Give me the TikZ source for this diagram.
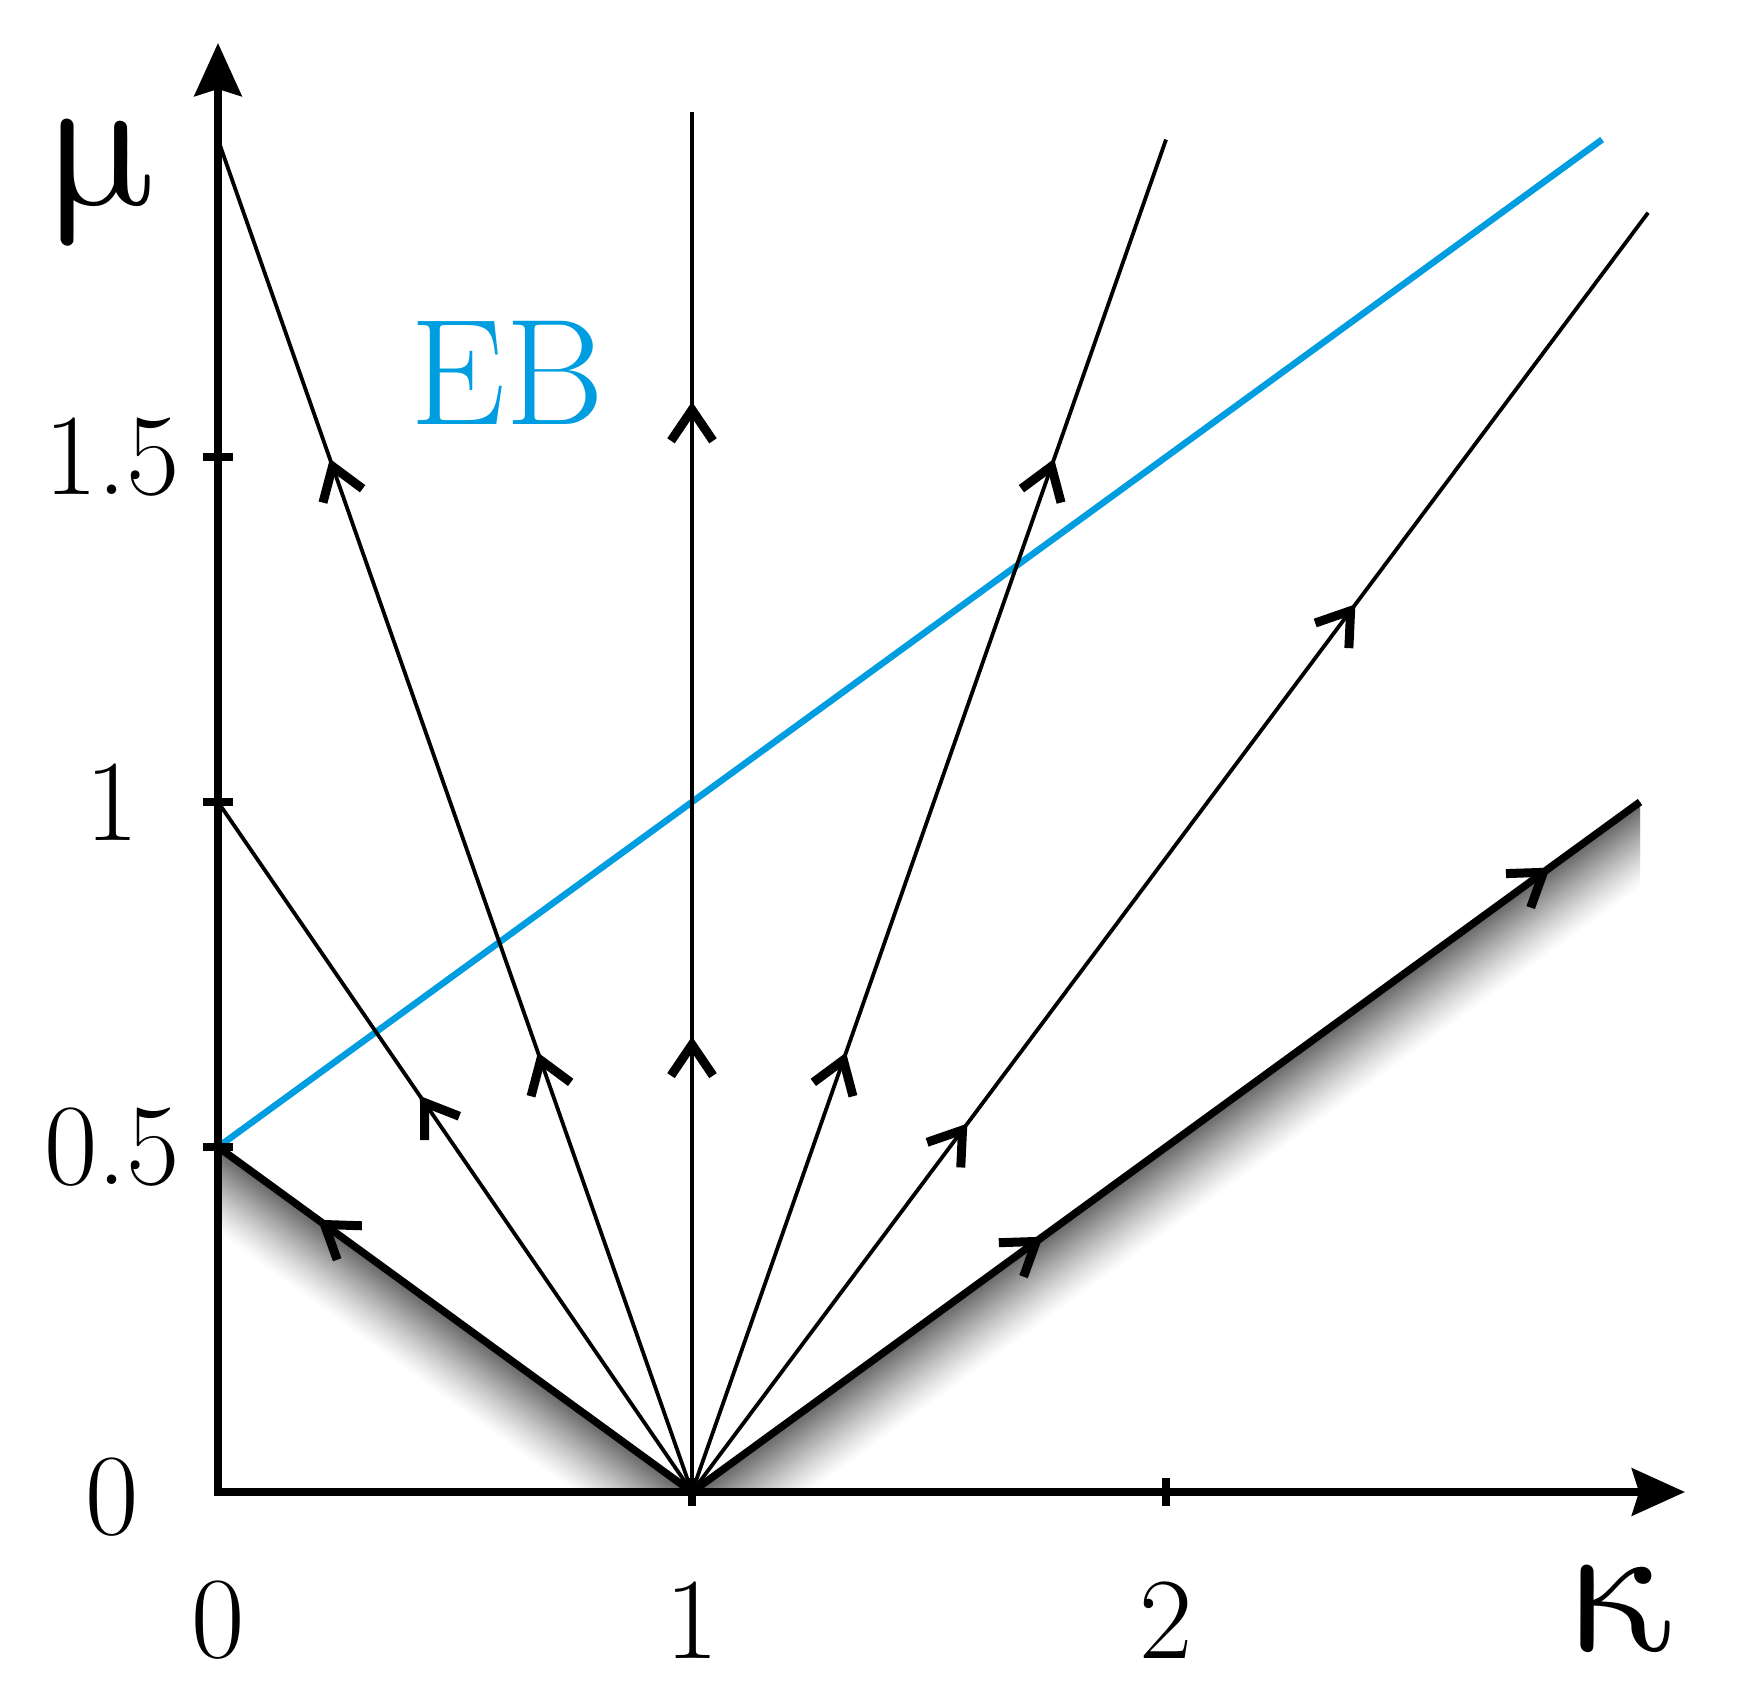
\documentclass[tikz,border=0pt]{standalone}
\usepackage{fontspec}
\usepackage{unicode-math}
\setmathfont{Latin Modern Math}
\usetikzlibrary{arrows.meta,decorations.markings,calc}
\definecolor{ebblue}{RGB}{0,158,224}
\tikzset{
  flowtip/.tip={Straight Barb[length=0.31cm,width=0.42cm,line width=0.09cm]},
  onemark/.style={postaction={decorate},decoration={markings,
     mark=at position #1 with {\arrow{flowtip}}}},
  twomarks/.style 2 args={postaction={decorate},decoration={markings,
     mark=at position #1 with {\arrow{flowtip}},
     mark=at position #2 with {\arrow{flowtip}}}},
  axisline/.style={line width=0.08cm, line join=miter},
  thinflow/.style={line width=0.038cm},
  thickflow/.style={line width=0.075cm},
  ebline/.style={line width=0.065cm, ebblue},
  numlabel/.style={font=\fontsize{33}{38}\selectfont, inner sep=0pt},
  greeklabel/.style={font=\fontsize{55}{62}\selectfont, inner sep=0pt},
}
\begin{document}
\begin{tikzpicture}
\useasboundingbox (0,0) rectangle (17.55,16.85);
\begin{scope}[shift={(2.18,1.93)}, x=4.74cm, y=6.9cm]
  \coordinate (O) at (0,0);
  \coordinate (V) at (1,0);
  \coordinate (X2) at (2,0);
  \coordinate (Xmax) at (3.095,0);
  \coordinate (Ymax) at (0,2.10);
  \coordinate (Yhalf) at (0,0.5);
  \coordinate (Yone) at (0,1);
  \coordinate (Yonehalf) at (0,1.5);
  \coordinate (T1) at (0,1.96);
  \coordinate (T2) at (1,2.0);
  \coordinate (T3) at (2,1.96);
  \coordinate (T4) at (3.017,1.854);
  \coordinate (R) at (3,1);
  \coordinate (B) at (2.92,1.96);
\end{scope}

% shading below the thick separatrices
\begin{scope}
  \clip (O) -- (Yhalf) -- (V) -- cycle;
  \foreach \i in {0,...,44} {
    \pgfmathsetmacro\g{62*(1-\i/44)^1.2}
    \draw[line width=0.022cm, black!\g]
      ($(Yhalf)!-0.2!(V) + (-0.5885*\i*0.016, -0.8085*\i*0.016)$) --
      ($(V)!-0.2!(Yhalf) + (-0.5885*\i*0.016, -0.8085*\i*0.016)$);
  }
\end{scope}
\begin{scope}
  \clip (V) -- (R) -- (R |- V) -- cycle;
  \foreach \i in {0,...,44} {
    \pgfmathsetmacro\g{62*(1-\i/44)^1.2}
    \draw[line width=0.022cm, black!\g]
      ($(V)!-0.2!(R) + (0.5885*\i*0.016, -0.8085*\i*0.016)$) --
      ($(R)!-0.2!(V) + (0.5885*\i*0.016, -0.8085*\i*0.016)$);
  }
\end{scope}

% EB line
\draw[ebline] (Yhalf) -- (B);

% flow lines
\draw[thinflow, onemark=0.574] (V) -- (Yone);
\draw[thinflow, twomarks={0.325}{0.764}] (V) -- (T1);
\draw[thinflow, twomarks={0.33}{0.79}] (V) -- (T2);
\draw[thinflow, twomarks={0.325}{0.764}] (V) -- (T3);
\draw[thinflow, twomarks={0.288}{0.694}] (V) -- (T4);
\draw[thickflow, onemark=0.789] (V) -- (Yhalf);
\draw[thickflow, twomarks={0.37}{0.905}] (V) -- (R);

% axes
\draw[axisline, {Stealth[length=0.53cm,width=0.47cm,inset=0.07cm]}-{Stealth[length=0.53cm,width=0.47cm,inset=0.07cm]}]
  (Ymax) -- (O) -- (Xmax);
\draw[axisline] ([xshift=-0.15cm]Yhalf) -- ([xshift=0.15cm]Yhalf);
\draw[axisline] ([xshift=-0.15cm]Yone) -- ([xshift=0.15cm]Yone);
\draw[axisline] ([xshift=-0.15cm]Yonehalf) -- ([xshift=0.15cm]Yonehalf);
\draw[axisline] ([yshift=-0.14cm]V) -- ([yshift=0.14cm]V);
\draw[axisline] ([yshift=-0.14cm]X2) -- ([yshift=0.14cm]X2);

% labels
\node[greeklabel] (mulabel) at (1.02,15.02) {$\symup{\mu}$};
\node[greeklabel] (kappalabel) at (16.22,0.76) {$\symup{\kappa}$};
\node[numlabel] (ly0) at (1.12,1.88) {0};
\node[numlabel] (ly05) at (1.12,5.38) {0.5};
\node[numlabel] (ly1) at (1.12,8.83) {1};
\node[numlabel] (ly15) at (1.12,12.28) {1.5};
\node[numlabel] (lx0) at (2.18,0.65) {0};
\node[numlabel] (lx1) at (6.92,0.65) {1};
\node[numlabel] (lx2) at (11.66,0.65) {2};
\node[anchor=base, text=ebblue, font=\fontsize{43}{50}\selectfont, inner sep=0pt] (eblabel) at (5.07,12.60) {EB};
\end{tikzpicture}
\end{document}
